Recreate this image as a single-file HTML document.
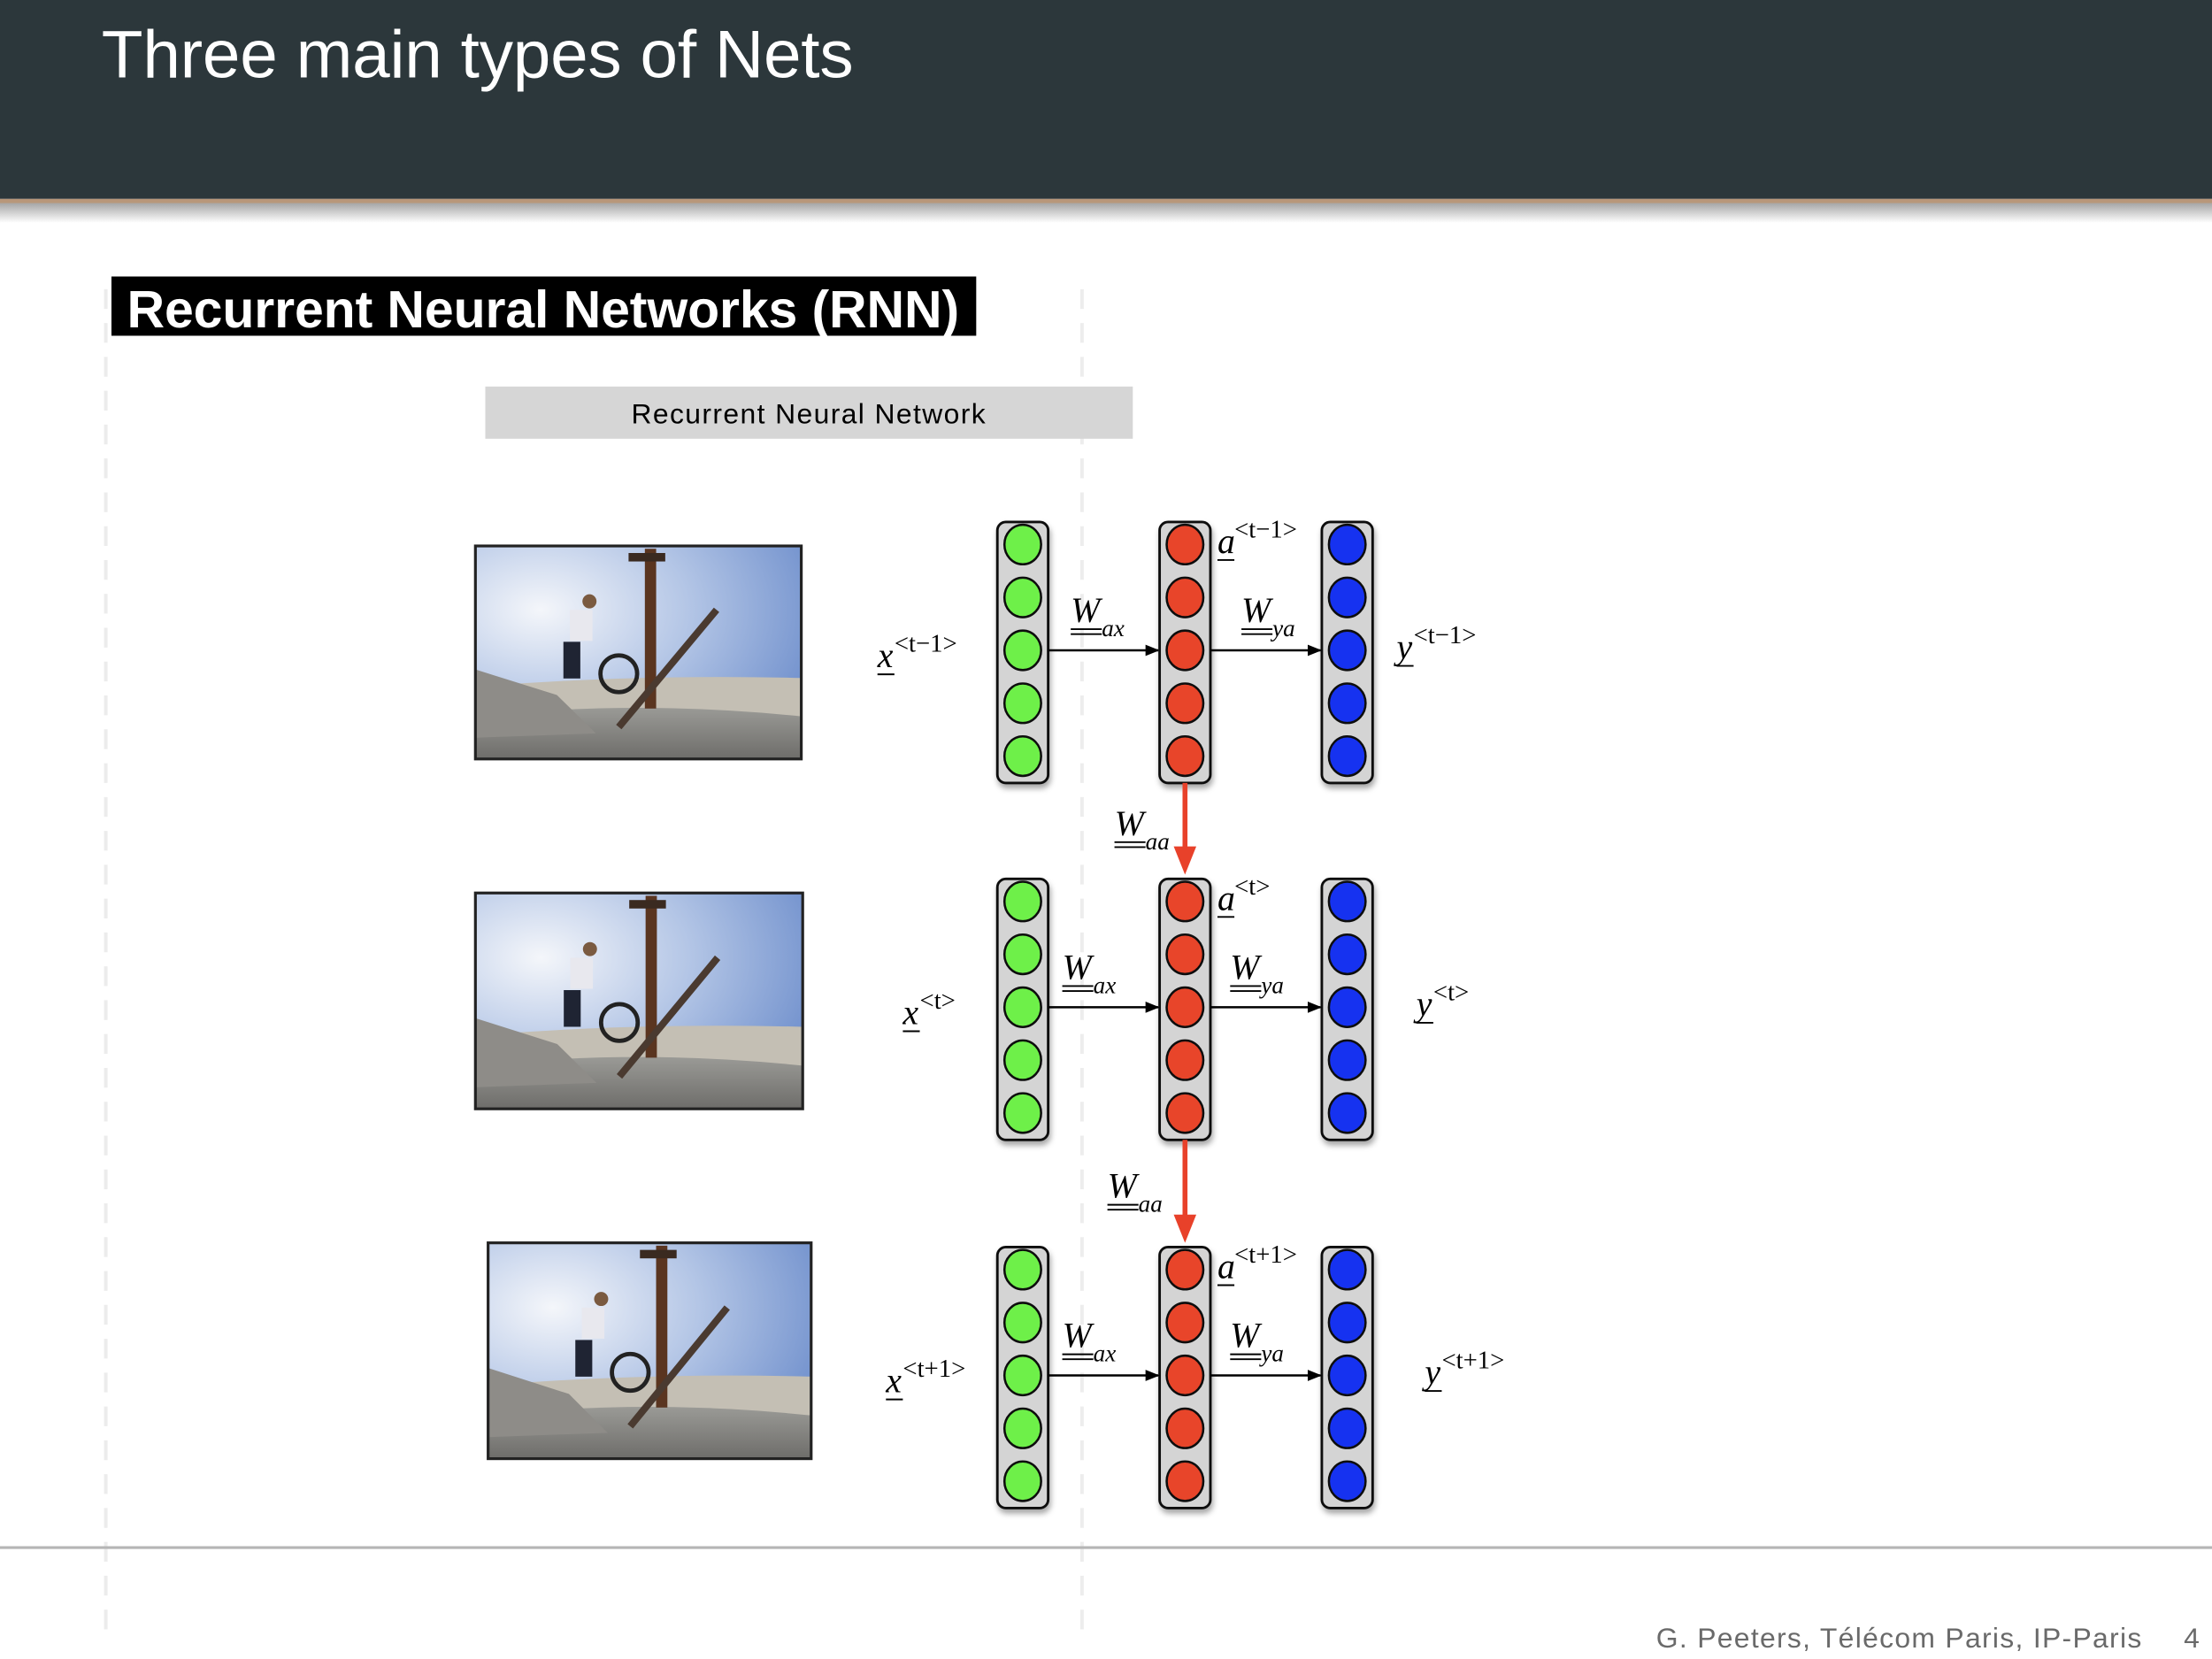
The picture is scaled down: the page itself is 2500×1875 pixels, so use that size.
<!DOCTYPE html>
<html><head><meta charset="utf-8"><style>
html,body{margin:0;padding:0;background:#fff;}
#root{width:2500px;height:1875px;position:relative;overflow:hidden;}
svg{display:block}
</style></head><body>
<div id="root">
<svg id="svg" width="2500" height="1875" viewBox="0 0 1568 1176" xmlns="http://www.w3.org/2000/svg">
<defs>
 <linearGradient id="hdrShadow" x1="0" y1="0" x2="0" y2="1">
  <stop offset="0" stop-color="#000" stop-opacity="0.35"/><stop offset="1" stop-color="#000" stop-opacity="0"/>
 </linearGradient>
 <radialGradient id="sky" cx="0.2" cy="0.3" r="0.9">
  <stop offset="0" stop-color="#f4f6fa"/><stop offset="0.5" stop-color="#b4c6e6"/><stop offset="1" stop-color="#6f8fcc"/>
 </radialGradient>
 <linearGradient id="ground" x1="0" y1="0" x2="0" y2="1">
  <stop offset="0" stop-color="#9a9a96"/><stop offset="1" stop-color="#6e6d6a"/>
 </linearGradient>
 <filter id="colShadow" x="-30%" y="-10%" width="160%" height="125%"><feDropShadow dx="1" dy="3" stdDeviation="2" flood-color="#000" flood-opacity="0.35"/></filter>
 <marker id="arrBlack" markerWidth="10" markerHeight="8" refX="9" refY="4" orient="auto" markerUnits="userSpaceOnUse"><path d="M0,0 L10,4 L0,8 Z" fill="#000"/></marker>
</defs>

<rect x="0" y="0" width="1568" height="141" fill="#2c373b"/>
<rect x="0" y="141" width="1568" height="3" fill="#b8977a"/>
<rect x="0" y="144" width="1568" height="14" fill="url(#hdrShadow)"/>
<text x="72" y="55" font-family="Liberation Sans, sans-serif" font-size="48" textLength="533" fill="#ffffff">Three main types of Nets</text>

<line x1="75" y1="205" x2="75" y2="1160" stroke="#ececec" stroke-width="2.5" stroke-dasharray="14,10"/>
<line x1="767" y1="205" x2="767" y2="1160" stroke="#ededed" stroke-width="2.5" stroke-dasharray="14,10"/>

<rect x="79" y="196" width="613" height="42" fill="#000"/>
<text x="90" y="232" font-family="Liberation Sans, sans-serif" font-weight="bold" font-size="37" textLength="590" fill="#fff">Recurrent Neural Networks (RNN)</text>

<rect x="344" y="274" width="459" height="37" fill="#d6d6d6"/>
<text x="573" y="300" text-anchor="middle" font-family="Liberation Sans, sans-serif" font-size="20" textLength="251" fill="#000">Recurrent Neural Network</text>

<g id="diagram"></g>

<line x1="0" y1="1097" x2="1568" y2="1097" stroke="#b5b5b5" stroke-width="2"/>
<text x="1518" y="1168" text-anchor="end" font-family="Liberation Sans, sans-serif" font-size="20" textLength="344" fill="#6a6a6a">G. Peeters, Télécom Paris, IP-Paris</text>
<text x="1548" y="1168" font-family="Liberation Sans, sans-serif" font-size="20" fill="#6a6a6a">4</text>
</svg>
</div>
<script>
// diagram data
const timeSteps = ['t\u22121', 't', 't+1'];
const layerNames = ['input', 'hidden', 'output'];
const layerColors = ['#6ef04a', '#e8442a', '#1432f0'];
const neuronsPerLayer = [5, 5, 5];

// layout constants
const rowTop = [370, 623, 884];
const colCenter = [725, 840, 955];
const photoBox = [[337,387,231,151],[337,633,232,153],[346,881,229,153]];
const xLabelX = [622, 640, 628];
const yLabelX = [990, 1004, 1010];
const colH = 185, colW = 36, spacing = 37.5;

const NS = 'http://www.w3.org/2000/svg';
const g = document.getElementById('diagram');
function mk(tag, attrs, parent) {
  const e = document.createElementNS(NS, tag);
  for (const k in attrs) e.setAttribute(k, attrs[k]);
  (parent || g).appendChild(e);
  return e;
}
const serif = 'Liberation Serif, serif';
function mathLabel(parent, x, y, base, sub, sup, dbl, name) {
  const grp = mk('g', {}, parent);
  
  
  const t = mk('text', {x: x, y: y, 'font-family': serif, 'font-style': 'italic', 'font-size': 25, fill: '#000'}, grp);
  t.textContent = base;
  const bw = base === 'W' ? 22 : 12;
  mk('line', {x1: x, y1: y + 5, x2: x + bw, y2: y + 5, stroke: '#000', 'stroke-width': 1.2}, grp);
  if (dbl) mk('line', {x1: x, y1: y + 8.5, x2: x + bw, y2: y + 8.5, stroke: '#000', 'stroke-width': 1.2}, grp);
  if (sub) {
    const s = mk('text', {x: x + bw, y: y + 10, 'font-family': serif, 'font-style': 'italic', 'font-size': 17, fill: '#000'}, grp);
    s.textContent = sub;
  }
  if (sup) {
    const s = mk('text', {x: x + bw, y: y - 11, 'font-family': serif, 'font-size': 18, fill: '#000'}, grp);
    s.textContent = '<' + sup + '>';
  }
}

function photo(i) {
  const [x, y, w, h] = photoBox[i];
  const p = mk('g', {});
  
  
  mk('rect', {x: x, y: y, width: w, height: h, fill: 'url(#sky)'}, p);
  mk('path', {d: `M${x},${y+h*0.66} Q${x+w*0.5},${y+h*0.6} ${x+w},${y+h*0.62} L${x+w},${y+h} L${x},${y+h} Z`, fill: '#c4bfb4'}, p);
  mk('path', {d: `M${x},${y+h*0.8} Q${x+w*0.5},${y+h*0.72} ${x+w},${y+h*0.8} L${x+w},${y+h} L${x},${y+h} Z`, fill: 'url(#ground)'}, p);
  mk('path', {d: `M${x},${y+h*0.58} L${x+w*0.25},${y+h*0.7} L${x+w*0.37},${y+h*0.88} L${x},${y+h*0.9} Z`, fill: '#8e8c88'}, p);
  mk('rect', {x: x + w*0.52, y: y + 2, width: 8, height: h*0.75, fill: '#5a3520'}, p);
  mk('rect', {x: x + w*0.47, y: y + 5, width: 26, height: 6, fill: '#3a2a20'}, p);
  mk('line', {x1: x + w*0.44, y1: y + h*0.85, x2: x + w*0.74, y2: y + h*0.3, stroke: '#4a3a30', 'stroke-width': 5}, p);
  mk('circle', {cx: x + w*0.44, cy: y + h*0.6, r: 13, fill: 'none', stroke: '#222', 'stroke-width': 3}, p);
  mk('rect', {x: x + w*0.29, y: y + h*0.3, width: 16, height: 22, fill: '#e8e8ee'}, p);
  mk('rect', {x: x + w*0.27, y: y + h*0.45, width: 12, height: 26, fill: '#1f2433'}, p);
  mk('circle', {cx: x + w*0.35, cy: y + h*0.26, r: 5, fill: '#7a5a40'}, p);
  mk('rect', {x: x, y: y, width: w, height: h, fill: 'none', stroke: '#222', 'stroke-width': 2}, p);
}

timeSteps.forEach((ts, r) => {
  photo(r);
  const top = rowTop[r];
  const midY = top + 16 + 2 * spacing;
  layerNames.forEach((ln, c) => {
    const col = mk('g', {filter: 'url(#colShadow)'});
    
    
    mk('rect', {x: colCenter[c] - colW/2, y: top, width: colW, height: colH, rx: 6, fill: '#d4d4d4', stroke: '#111', 'stroke-width': 1.8}, col);
    for (let n = 0; n < neuronsPerLayer[c]; n++) {
      const e = mk('ellipse', {cx: colCenter[c], cy: top + 16 + n * spacing, rx: 13, ry: 14, fill: layerColors[c], stroke: '#111', 'stroke-width': 1.6}, col);
      
      
    }
  });
  const a1 = mk('line', {x1: colCenter[0] + colW/2, y1: midY, x2: colCenter[1] - colW/2 - 1, y2: midY, stroke: '#000', 'stroke-width': 1.6, 'marker-end': 'url(#arrBlack)'});
  
  
  const a2 = mk('line', {x1: colCenter[1] + colW/2, y1: midY, x2: colCenter[2] - colW/2 - 1, y2: midY, stroke: '#000', 'stroke-width': 1.6, 'marker-end': 'url(#arrBlack)'});
  
  
  mathLabel(g, xLabelX[r], midY + 12, 'x', '', ts, false, 'input-label-' + (r + 1));
  mathLabel(g, yLabelX[r], midY + 6, 'y', '', ts, false, 'output-label-' + (r + 1));
  mathLabel(g, 863, top + 22, 'a', '', ts, false, 'activation-label-' + (r + 1));
  mathLabel(g, 759 - (r ? 6 : 0), midY - 20, 'W', 'ax', '', true, 'weight-ax-label-' + (r + 1));
  mathLabel(g, 880 - (r ? 8 : 0), midY - 20, 'W', 'ya', '', true, 'weight-ya-label-' + (r + 1));
  if (r < timeSteps.length - 1) {
    const tipY = rowTop[r + 1] - 3;
    const ra = mk('g', {});
    
    
    mk('line', {x1: colCenter[1], y1: top + colH, x2: colCenter[1], y2: tipY - 18, stroke: '#e8412a', 'stroke-width': 3.5}, ra);
    mk('polygon', {points: `${colCenter[1]-8},${tipY-20} ${colCenter[1]+8},${tipY-20} ${colCenter[1]},${tipY}`, fill: '#e8412a'}, ra);
    mathLabel(g, 790 - r * 5, top + colH + 37 + r * 4, 'W', 'aa', '', true, 'weight-aa-label-' + (r + 1));
  }
});
</script>
</body></html>
